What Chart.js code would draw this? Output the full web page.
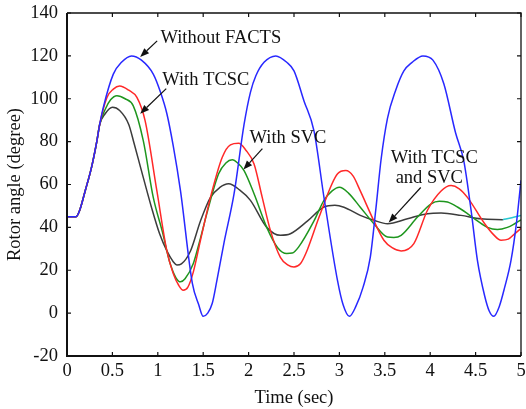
<!DOCTYPE html>
<html>
<head>
<meta charset="utf-8">
<script src="https://cdn.jsdelivr.net/npm/chart.js@4.4.0/dist/chart.umd.min.js"></script>
<style>
    body { margin: 0; background: white; }
    #wrap { width: 526px; height: 409px; }
</style>
</head>
<body>
<div id="wrap"><canvas id="plot" width="526" height="409"></canvas></div>
<script>
// rotor angle readings (time in sec, angle in degree), one pair of arrays per case
var tNoFacts = [0, 0.1, 0.14, 0.2, 0.27, 0.33, 0.36, 0.4, 0.51, 0.6, 0.71, 0.82, 0.95, 1.03, 1.1, 1.17, 1.25, 1.38, 1.45, 1.5, 1.55, 1.6, 1.65, 1.73, 1.84, 1.95, 2.02, 2.08, 2.17, 2.3, 2.42, 2.5, 2.61, 2.72, 2.83, 2.98, 3.04, 3.11, 3.18, 3.26, 3.34, 3.4, 3.46, 3.53, 3.62, 3.71, 3.8, 3.92, 4.03, 4.15, 4.28, 4.37, 4.45, 4.52, 4.6, 4.65, 4.7, 4.76, 4.82, 4.89, 4.95, 5.0];
var vNoFacts = [45, 45, 48, 57, 68, 80.5, 88, 96, 111.5, 117, 120, 118, 111.5, 103, 93, 78, 57, 14, 4, -1.5, 0, 4.6, 15, 33, 55.7, 88, 103, 110.7, 117, 120, 117, 113, 99, 85, 54, 15, 4, -1.5, 3, 12, 26, 48, 72, 91, 104, 113, 117, 120, 118, 107, 84, 71, 48, 24.6, 8, 1, -1.5, 3, 12, 24.6, 42, 62];

var tTcsc = [0, 0.1, 0.14, 0.2, 0.27, 0.33, 0.36, 0.44, 0.51, 0.58, 0.68, 0.77, 0.86, 0.99, 1.1, 1.17, 1.23, 1.28, 1.33, 1.39, 1.47, 1.58, 1.71, 1.8, 1.89, 1.97, 2.06, 2.15, 2.24, 2.35, 2.43, 2.5, 2.57, 2.63, 2.79, 2.98, 3.07, 3.15, 3.23, 3.38, 3.49, 3.58, 3.68, 3.82, 3.97, 4.12, 4.23, 4.32, 4.41, 4.6, 4.7, 4.78, 4.86, 4.93, 5.0];
var vTcsc = [45, 45, 48, 57, 68, 80.5, 88, 100.6, 104.5, 106, 104, 100.6, 89.8, 57, 29, 18.5, 13, 10.7, 12, 19, 34, 54, 72.7, 78.5, 79.2, 76, 69.6, 54, 38.6, 26, 22.5, 21.5, 23, 27.8, 46.4, 65, 66.5, 64, 57, 43, 34, 30.5, 29, 32.4, 48, 57, 59.5, 58, 54, 41.7, 36.5, 34, 34.5, 37, 39.5];

var tSvc = [0, 0.1, 0.14, 0.2, 0.27, 0.33, 0.36, 0.42, 0.48, 0.55, 0.64, 0.73, 0.84, 0.95, 1.05, 1.13, 1.2, 1.25, 1.3, 1.39, 1.47, 1.54, 1.67, 1.75, 1.82, 1.88, 1.95, 2.06, 2.2, 2.32, 2.42, 2.48, 2.55, 2.72, 2.83, 2.92, 3.0, 3.1, 3.23, 3.38, 3.53, 3.6, 3.68, 3.86, 4.01, 4.1, 4.19, 4.3, 4.41, 4.52, 4.63, 4.74, 4.85, 4.93, 5.0];
var vSvc = [45, 45, 48, 57, 68, 80.5, 88, 95, 99.5, 101.4, 100, 96.7, 80.5, 54, 38, 24, 16.5, 14.6, 16, 23, 35, 46.4, 65, 70, 71.5, 70, 66.5, 55.7, 40, 30.5, 27.8, 28, 30.8, 43, 52.6, 57, 58.7, 56, 49.4, 41.7, 35.5, 35.3, 36.3, 44.8, 51, 52.2, 51.8, 49.5, 46.4, 43, 40, 39, 40, 41.7, 43.5];

var tBoth = [0, 0.1, 0.14, 0.2, 0.27, 0.33, 0.36, 0.42, 0.5, 0.58, 0.68, 0.74, 0.81, 0.93, 1.02, 1.1, 1.17, 1.21, 1.26, 1.36, 1.47, 1.58, 1.68, 1.78, 1.9, 2.02, 2.2, 2.35, 2.46, 2.65, 2.83, 2.95, 3.05, 3.23, 3.38, 3.53, 3.75, 3.97, 4.12, 4.34, 4.56, 4.8];
var vBoth = [45, 45, 48, 57, 68, 80.5, 88, 93, 96, 94.5, 88, 79, 68, 49.4, 37, 29, 24, 22.5, 23, 29, 43, 54, 58.5, 60.3, 57.5, 52.6, 40, 36.3, 37, 43, 49.5, 50.3, 49.4, 45.6, 43.3, 41.7, 44, 46.4, 46.7, 45.6, 44, 43.6];

// short cyan piece at the right end
var tTail = [4.8, 4.9, 5.0];
var vTail = [43.6, 44.5, 45.5];

// axis ticks
var xTicks = [0, 0.5, 1, 1.5, 2, 2.5, 3, 3.5, 4, 4.5, 5];
var yTicks = [-20, 0, 20, 40, 60, 80, 100, 120, 140];

// callout labels and arrows, in data units
var noteText = ['Without FACTS', 'With TCSC', 'With SVC', 'With TCSC', 'and SVC'];
var noteT = [1.694, 1.529, 2.434, 4.045, 3.99];
var noteV = [128.4, 108.8, 81.4, 72.1, 62.8];
var arrowFromT = [0.993, 1.093, 2.152, 3.896];
var arrowFromV = [127, 104.7, 76.7, 58.6];
var arrowToT = [0.806, 0.806, 1.943, 3.543];
var arrowToV = [119.5, 93, 67, 42.3];

var serif = "'Liberation Serif', 'Times New Roman', serif";

function pairs(ts, vs) {
    return ts.map((t, i) => ({x: t, y: vs[i]}));
}

function makeSet(ts, vs, color) {
    return {
        data: pairs(ts, vs),
        borderColor: color,
        borderWidth: 1.5,
        pointRadius: 0,
        cubicInterpolationMode: 'monotone',
        fill: false
    };
}

// frame, inward ticks, callouts
var decorations = {
    id: 'decorations',
    afterDatasetsDraw(chart) {
        const ctx = chart.ctx;
        const a = chart.chartArea;
        const xs = chart.scales.x;
        const ys = chart.scales.y;
        ctx.save();
        ctx.strokeStyle = '#111';
        ctx.lineWidth = 1.2;
        // tick marks pointing into the plot
        xTicks.forEach((t) => {
            const px = xs.getPixelForValue(t);
            ctx.beginPath();
            ctx.moveTo(px, a.bottom); ctx.lineTo(px, a.bottom - 4);
            ctx.moveTo(px, a.top); ctx.lineTo(px, a.top + 4);
            ctx.stroke();
        });
        yTicks.forEach((v) => {
            const py = ys.getPixelForValue(v);
            ctx.beginPath();
            ctx.moveTo(a.left, py); ctx.lineTo(a.left + 4, py);
            ctx.moveTo(a.right, py); ctx.lineTo(a.right - 4, py);
            ctx.stroke();
        });
        // top and right edges thin, left and bottom heavier
        ctx.lineWidth = 1.3;
        ctx.beginPath();
        ctx.moveTo(a.left, a.top); ctx.lineTo(a.right, a.top); ctx.lineTo(a.right, a.bottom);
        ctx.stroke();
        ctx.lineWidth = 2;
        ctx.beginPath();
        ctx.moveTo(a.left, a.top); ctx.lineTo(a.left, a.bottom); ctx.lineTo(a.right, a.bottom);
        ctx.stroke();

        // callout text
        ctx.fillStyle = '#111';
        ctx.font = '18.5px ' + serif;
        ctx.textAlign = 'center';
        ctx.textBaseline = 'middle';
        noteText.forEach((txt, i) => {
            ctx.fillText(txt, xs.getPixelForValue(noteT[i]), ys.getPixelForValue(noteV[i]));
        });

        // arrows
        ctx.strokeStyle = '#111';
        ctx.lineWidth = 1.2;
        arrowFromT.forEach((t, i) => {
            const x0 = xs.getPixelForValue(t);
            const y0 = ys.getPixelForValue(arrowFromV[i]);
            const x1 = xs.getPixelForValue(arrowToT[i]);
            const y1 = ys.getPixelForValue(arrowToV[i]);
            const ang = Math.atan2(y1 - y0, x1 - x0);
            const len = 9, half = 3.5;
            const bx = x1 - len * Math.cos(ang);
            const by = y1 - len * Math.sin(ang);
            ctx.beginPath();
            ctx.moveTo(x0, y0); ctx.lineTo(bx, by);
            ctx.stroke();
            ctx.beginPath();
            ctx.moveTo(x1, y1);
            ctx.lineTo(bx + half * Math.sin(ang), by - half * Math.cos(ang));
            ctx.lineTo(bx - half * Math.sin(ang), by + half * Math.cos(ang));
            ctx.closePath();
            ctx.fill();
        });
        ctx.restore();
    }
};

onload = function() {
    var canvas = document.querySelector('#plot');
    new Chart(canvas, {
        type: 'line',
        data: {
            datasets: [
                makeSet(tNoFacts, vNoFacts, 'rgb(40,40,255)'),
                makeSet(tTcsc, vTcsc, 'rgb(255,40,40)'),
                makeSet(tSvc, vSvc, 'rgb(30,150,30)'),
                makeSet(tBoth, vBoth, 'rgb(60,60,60)'),
                makeSet(tTail, vTail, 'rgb(40,200,210)')
            ]
        },
        options: {
            responsive: false,
            animation: false,
            devicePixelRatio: 1,
            layout: { padding: { top: 13, right: 5, left: 0, bottom: 0 } },
            plugins: { legend: { display: false }, tooltip: { enabled: false } },
            scales: {
                x: {
                    type: 'linear',
                    min: 0,
                    max: 5,
                    // fixed height, and no extra room for the end labels
                    afterFit: (s) => { s.height = 53; s.paddingLeft = 0; s.paddingRight = 0; },
                    afterBuildTicks: (s) => { s.ticks = xTicks.map((v) => ({value: v})); },
                    grid: { display: false, drawTicks: false },
                    border: { display: false },
                    ticks: {
                        padding: 4,
                        color: '#111',
                        maxRotation: 0,
                        autoSkip: false,
                        font: { family: serif, size: 18.5 },
                        callback: (v) => String(Number(v.toFixed(1)))
                    },
                    title: {
                        display: true,
                        text: 'Time (sec)',
                        color: '#111',
                        padding: { top: 0, bottom: 0 },
                        font: { family: serif, size: 18.5 }
                    }
                },
                y: {
                    min: -20,
                    max: 140,
                    afterFit: (s) => { s.width = 67; s.paddingTop = 0; s.paddingBottom = 0; },
                    afterBuildTicks: (s) => { s.ticks = yTicks.map((v) => ({value: v})); },
                    grid: { display: false, drawTicks: false },
                    border: { display: false },
                    ticks: {
                        padding: 9,
                        color: '#111',
                        font: { family: serif, size: 18.5 }
                    },
                    title: {
                        display: true,
                        text: 'Rotor angle (degree)',
                        color: '#111',
                        padding: { top: 4, bottom: 0 },
                        font: { family: serif, size: 18.5 }
                    }
                }
            }
        },
        plugins: [decorations]
    });
};
</script>
</body>
</html>
